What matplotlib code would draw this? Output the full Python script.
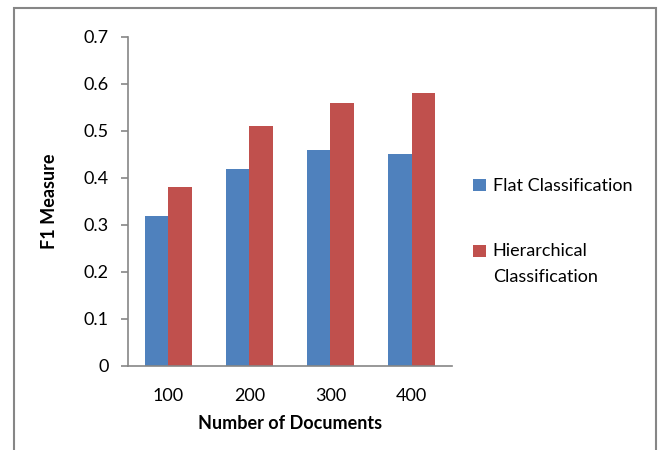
import matplotlib
matplotlib.use("Agg")
import matplotlib.pyplot as plt
import numpy as np
from matplotlib.patches import Rectangle

plt.rcParams['font.family'] = ['Lato', 'DejaVu Sans']

documents = ['100', '200', '300', '400']
flat = [0.32, 0.42, 0.46, 0.45]
hierarchical = [0.38, 0.51, 0.56, 0.58]
series_names = ['Flat Classification', 'Hierarchical\nClassification']
colours = ['#4F81BD', '#C0504D']

fig = plt.figure(figsize=(6.59, 4.5), dpi=100)
ax = fig.add_axes([0.1942, 0.1867, 0.4917, 0.7311])

x = np.arange(len(documents))
w = 1 / 3.5
ax.bar(x - w / 2, flat, w, color=colours[0], label=series_names[0])
ax.bar(x + w / 2, hierarchical, w, color=colours[1], label=series_names[1])

ax.set_xlim(-0.5, len(documents) - 0.5)
ax.set_ylim(0, 0.7)
ax.set_yticks(np.arange(0, 0.71, 0.1))
ax.set_yticklabels(['0'] + ['%.1f' % v for v in np.arange(0.1, 0.71, 0.1)])
ax.set_xticks(x)
ax.set_xticklabels(documents)

for side in ['top', 'right']:
    ax.spines[side].set_visible(False)
for side in ['left', 'bottom']:
    ax.spines[side].set_color('#868686')
    ax.spines[side].set_linewidth(1.2)
ax.tick_params(axis='y', length=5, color='#868686', width=1.2, labelsize=13, pad=9)
ax.tick_params(axis='x', length=0, labelsize=13, pad=16)

ax.set_xlabel('Number of Documents', fontsize=13, fontweight='bold', labelpad=8)
ax.set_ylabel('F1 Measure', fontsize=13, fontweight='bold', labelpad=18)

leg = fig.legend(loc='upper left', bbox_to_anchor=(0.693, 0.64), frameon=False,
                 fontsize=13, handlelength=0.7, handleheight=0.7,
                 handletextpad=0.4, labelspacing=2.7)
for t in leg.get_texts():
    t.set_linespacing(1.75)
# Excel puts the square next to the first line of a wrapped label
leg.legend_handles[1].set_y(leg.legend_handles[1].get_y() + 9.5)

# chart area border
fig.patches.append(Rectangle((14 / 659, -0.1), 642 / 659, 1 - 8 / 450 + 0.1,
                             transform=fig.transFigure, fill=False,
                             edgecolor='#868686', linewidth=1.5))

fig.savefig('out.png', dpi=100)
